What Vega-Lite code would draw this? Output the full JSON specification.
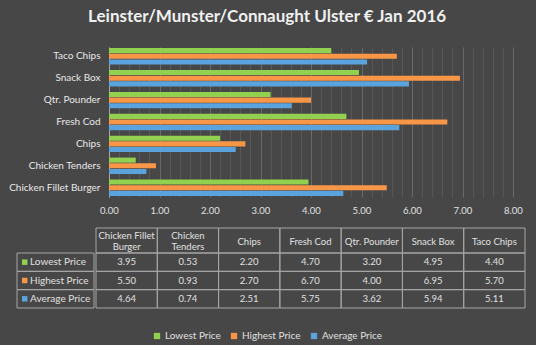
{
  "$schema": "https://vega.github.io/schema/vega-lite/v6.json",
  "background": "#474747",
  "padding": {"left": 8, "top": 8, "right": 15, "bottom": 4},
  "title": {"text": "Leinster/Munster/Connaught Ulster € Jan 2016", "anchor": "middle", "font": "Lato", "fontSize": 17, "fontWeight": "bold", "color": "#f0f0f0", "offset": 21},
  "datasets": {
    "prices": [
      {"item": "Chicken Fillet Burger", "series": "Lowest Price", "value": 3.95},
      {"item": "Chicken Fillet Burger", "series": "Highest Price", "value": 5.50},
      {"item": "Chicken Fillet Burger", "series": "Average Price", "value": 4.64},
      {"item": "Chicken Tenders", "series": "Lowest Price", "value": 0.53},
      {"item": "Chicken Tenders", "series": "Highest Price", "value": 0.93},
      {"item": "Chicken Tenders", "series": "Average Price", "value": 0.74},
      {"item": "Chips", "series": "Lowest Price", "value": 2.20},
      {"item": "Chips", "series": "Highest Price", "value": 2.70},
      {"item": "Chips", "series": "Average Price", "value": 2.51},
      {"item": "Fresh Cod", "series": "Lowest Price", "value": 4.70},
      {"item": "Fresh Cod", "series": "Highest Price", "value": 6.70},
      {"item": "Fresh Cod", "series": "Average Price", "value": 5.75},
      {"item": "Qtr. Pounder", "series": "Lowest Price", "value": 3.20},
      {"item": "Qtr. Pounder", "series": "Highest Price", "value": 4.00},
      {"item": "Qtr. Pounder", "series": "Average Price", "value": 3.62},
      {"item": "Snack Box", "series": "Lowest Price", "value": 4.95},
      {"item": "Snack Box", "series": "Highest Price", "value": 6.95},
      {"item": "Snack Box", "series": "Average Price", "value": 5.94},
      {"item": "Taco Chips", "series": "Lowest Price", "value": 4.40},
      {"item": "Taco Chips", "series": "Highest Price", "value": 5.70},
      {"item": "Taco Chips", "series": "Average Price", "value": 5.11}
    ],
    "items": [
      {"item": "Chicken Fillet Burger", "label": "Chicken Fillet\nBurger"},
      {"item": "Chicken Tenders", "label": "Chicken\nTenders"},
      {"item": "Chips", "label": "Chips"},
      {"item": "Fresh Cod", "label": "Fresh Cod"},
      {"item": "Qtr. Pounder", "label": "Qtr. Pounder"},
      {"item": "Snack Box", "label": "Snack Box"},
      {"item": "Taco Chips", "label": "Taco Chips"}
    ]
  },
  "spacing": 12,
  "vconcat": [
    {
      "width": 506,
      "height": 150,
      "data": {"name": "prices"},
      "mark": {"type": "bar"},
      "encoding": {
        "y": {
          "field": "item", "type": "nominal", "sort": "descending", "title": null,
          "scale": {"paddingInner": 0.25, "paddingOuter": 0.05},
          "axis": {"offset": -92, "ticks": false, "domain": true, "domainColor": "#a6a6a6", "labelPadding": 9, "labelFontSize": 10, "labelColor": "#e8e8e8", "labelFont": "Lato", "grid": false, "labelLimit": 200}
        },
        "yOffset": {"field": "series", "type": "nominal", "sort": ["Lowest Price", "Highest Price", "Average Price"], "scale": {"paddingInner": 0.1}},
        "x": {
          "field": "value", "type": "quantitative", "title": null,
          "scale": {"domain": [0, 8], "range": [92, 496], "nice": false},
          "axis": {
            "values": [0, 0.2, 0.4, 0.6, 0.8, 1, 1.2, 1.4, 1.6, 1.8, 2, 2.2, 2.4, 2.6, 2.8, 3, 3.2, 3.4, 3.6, 3.8, 4, 4.2, 4.4, 4.6, 4.8, 5, 5.2, 5.4, 5.6, 5.8, 6, 6.2, 6.4, 6.6, 6.8, 7, 7.2, 7.4, 7.6, 7.8, 8],
            "labelExpr": "datum.value % 1 === 0 ? format(datum.value, '.2f') : ''",
            "domain": false, "ticks": false, "labelPadding": 8, "labelFontSize": 9.5, "labelColor": "#e0e0e0", "labelFont": "Lato",
            "labelOverlap": false, "labelFlush": false,
            "grid": true,
            "gridColor": {"condition": {"test": "datum.value % 1 === 0", "value": "#6a6a6a"}, "value": "#575757"}
          }
        },
        "color": {
          "field": "series", "type": "nominal", "title": null,
          "scale": {"domain": ["Lowest Price", "Highest Price", "Average Price"], "range": ["#92d050", "#f79646", "#5ba3dc"]},
          "legend": {"title": null}
        }
      }
    },
    {
      "spacing": 0,
      "hconcat": [
        {
          "width": 77,
          "height": 80,
          "data": {"name": "prices"},
          "transform": [{"aggregate": [{"op": "count", "as": "n"}], "groupby": ["series"]}],
          "encoding": {
            "y": {"field": "series", "type": "nominal", "sort": ["Lowest Price", "Highest Price", "Average Price"], "scale": {"range": [25, 80], "paddingInner": 0, "paddingOuter": 0}, "axis": null}
          },
          "layer": [
            {"mark": {"type": "rect", "fill": "transparent", "stroke": "#a6a6a6", "strokeWidth": 1}},
            {
              "mark": {"type": "square", "size": 30, "opacity": 1, "filled": true},
              "encoding": {
                "x": {"datum": 0.1, "type": "quantitative", "scale": {"domain": [0, 1]}, "axis": null},
                "color": {"field": "series", "type": "nominal", "title": null, "legend": {"title": null}}
              }
            },
            {
              "mark": {"type": "text", "align": "left", "fontSize": 10, "color": "#e0e0e0", "font": "Lato"},
              "encoding": {
                "x": {"datum": 0.17, "type": "quantitative", "scale": {"domain": [0, 1]}, "axis": null},
                "text": {"field": "series"}
              }
            }
          ]
        },
        {
          "width": 429,
          "height": 80,
          "layer": [
            {
              "data": {"name": "items"},
              "encoding": {
                "x": {"field": "item", "type": "nominal", "scale": {"domain": ["Chicken Fillet Burger", "Chicken Tenders", "Chips", "Fresh Cod", "Qtr. Pounder", "Snack Box", "Taco Chips"], "paddingInner": 0, "paddingOuter": 0}, "axis": null},
                "y": {"datum": "header", "type": "nominal", "scale": {"range": [0, 25], "paddingInner": 0, "paddingOuter": 0}, "axis": null}
              },
              "layer": [
                {"mark": {"type": "rect", "fill": "transparent", "stroke": "#a6a6a6", "strokeWidth": 1}},
                {
                  "transform": [{"filter": "datum.item != 'Chicken Fillet Burger' && datum.item != 'Chicken Tenders'"}],
                  "mark": {"type": "text", "fontSize": 9.5, "color": "#e0e0e0", "font": "Lato", "dy": 1},
                  "encoding": {"text": {"field": "label"}}
                },
                {
                  "transform": [{"filter": "datum.item == 'Chicken Fillet Burger' || datum.item == 'Chicken Tenders'"}],
                  "mark": {"type": "text", "lineBreak": "\n", "fontSize": 9.5, "lineHeight": 11, "color": "#e0e0e0", "font": "Lato", "dy": -4.5},
                  "encoding": {"text": {"field": "label"}}
                }
              ]
            },
            {
              "data": {"name": "prices"},
              "encoding": {
                "x": {"field": "item", "type": "nominal", "scale": {"domain": ["Chicken Fillet Burger", "Chicken Tenders", "Chips", "Fresh Cod", "Qtr. Pounder", "Snack Box", "Taco Chips"], "paddingInner": 0, "paddingOuter": 0}, "axis": null},
                "y": {"field": "series", "type": "nominal", "sort": ["Lowest Price", "Highest Price", "Average Price"], "scale": {"range": [25, 80], "paddingInner": 0, "paddingOuter": 0}, "axis": null}
              },
              "layer": [
                {"mark": {"type": "rect", "fill": "transparent", "stroke": "#a6a6a6", "strokeWidth": 1}},
                {"mark": {"type": "text", "fontSize": 9.5, "color": "#e0e0e0", "font": "Lato"}, "encoding": {"text": {"field": "value", "type": "quantitative", "format": ".2f"}}}
              ]
            }
          ],
          "resolve": {"scale": {"y": "independent"}}
        }
      ]
    }
  ],
  "config": {
    "view": {"stroke": null},
    "font": "Lato",
    "legend": {
      "orient": "bottom", "direction": "horizontal", "symbolType": "square", "symbolSize": 40, "symbolStrokeWidth": 0,
      "labelColor": "#e0e0e0", "labelFontSize": 10, "labelFont": "Lato", "columnPadding": 8, "labelOffset": 3, "offset": 22,
      "layout": {"bottom": {"anchor": "middle"}}
    }
  }
}
